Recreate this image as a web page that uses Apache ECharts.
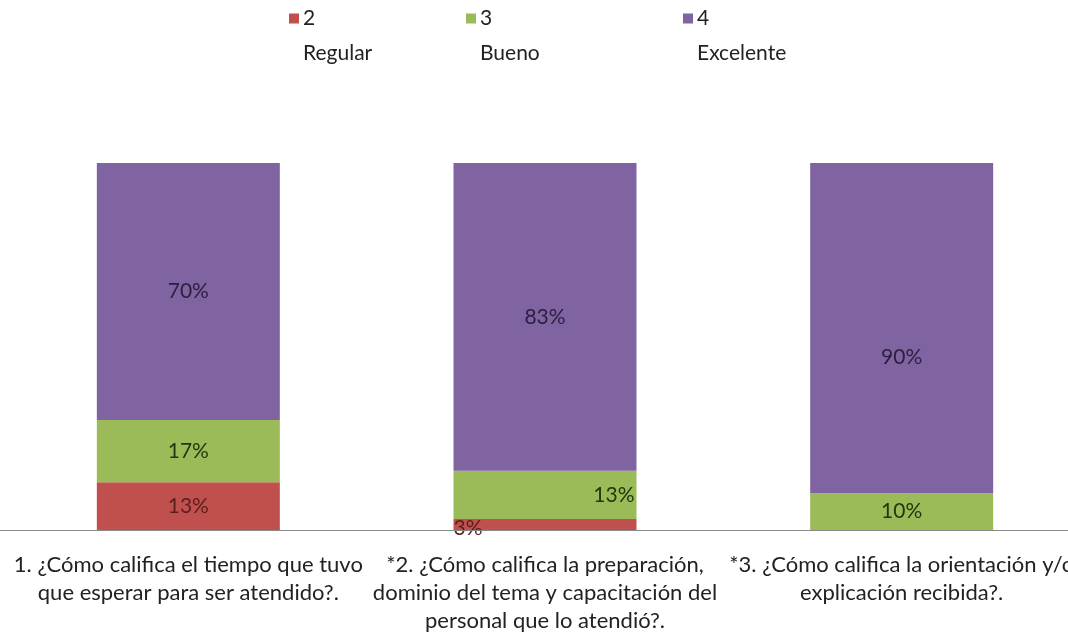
<!DOCTYPE html>
<html><head><meta charset="utf-8">
<script src="https://cdn.jsdelivr.net/npm/echarts@6/dist/echarts.min.js"></script>
<style>html,body{margin:0;padding:0;background:#fff}#c{width:1068px;height:632px}</style>
</head><body><div id="c"></div>
<script>
const categories = [
  '1. ¿Cómo califica el tiempo que tuvo\nque esperar para ser atendido?.',
  '*2. ¿Cómo califica la preparación,\ndominio del tema y capacitación del\npersonal que lo atendió?.',
  '*3. ¿Cómo califica la orientación y/o\nexplicación recibida?.'
];
const seriesNames = ['2\nRegular', '3\nBueno', '4\nExcelente'];
const regular = [13, 3, 0];
const bueno = [17, 13, 10];
const excelente = [70, 83, 90];

const FONT = "Lato,'Open Sans',sans-serif";
const colors = ['#C0504D', '#9BBB59', '#8064A2'];
const labelColors = ['#5a1f1f', '#22380f', '#2a1f40'];
const all = [regular, bueno, excelente];
const totals = categories.map((_, i) => all.reduce((s, a) => s + a[i], 0));

// per-item label adjustments (Excel placement)
const labelTweaks = {
  '0-1': {position: 'insideLeft', offset: [-5, 4]},
  '1-1': {position: 'insideRight', offset: [3, 0]},
  '2-2': {offset: [0, 29]}
};

const series = all.map((vals, s) => ({
  name: seriesNames[s],
  type: 'bar',
  stack: 'total',
  barWidth: 183,
  itemStyle: {color: colors[s]},
  label: {
    show: true, position: 'inside', fontFamily: FONT, fontSize: 21,
    color: labelColors[s],
    formatter: p => vals[p.dataIndex] + '%'
  },
  data: vals.map((v, i) => {
    const d = {value: v / totals[i] * 100};
    const t = labelTweaks[s + '-' + i];
    if (v === 0) d.label = {show: false};
    else if (t) d.label = Object.assign({}, t);
    return d;
  })
}));

const sqPath = 'path://M0,0L10,0L10,10L0,10Z M0,45L0.01,45L0,45.01Z';
const legendLefts = [284, 461, 678];
const legends = seriesNames.map((n, i) => ({
  left: legendLefts[i], top: -4, data: [n],
  icon: sqPath, itemWidth: 10, itemHeight: 45, itemGap: 0,
  selectedMode: false,
  textStyle: {fontFamily: FONT, fontSize: 21, color: '#222', lineHeight: 35, padding: [0, 0, 0, -1]}
}));

const chart = echarts.init(document.getElementById('c'));
chart.setOption({
  animation: false,
  legend: legends,
  grid: {left: 10, top: 163, width: 1070, height: 367, containLabel: false, outerBoundsMode: 'none'},
  xAxis: {
    type: 'category', data: categories,
    axisLine: {lineStyle: {color: '#8a8a8a', width: 1}},
    axisTick: {show: false},
    axisLabel: {interval: 0, fontFamily: FONT, fontSize: 22, color: '#222', lineHeight: 28, margin: 21}
  },
  yAxis: {type: 'value', min: 0, max: 100, show: false, splitLine: {show: false}},
  series: series
});
// extend the baseline across the full width like the original
const baseY = Math.round(chart.convertToPixel({yAxisIndex: 0}, 0)) + 0.5;
chart.setOption({
  graphic: [{type: 'line', z: 100, shape: {x1: 0, y1: baseY, x2: 1068, y2: baseY},
    style: {stroke: '#8a8a8a', lineWidth: 1}}]
});
</script></body></html>
